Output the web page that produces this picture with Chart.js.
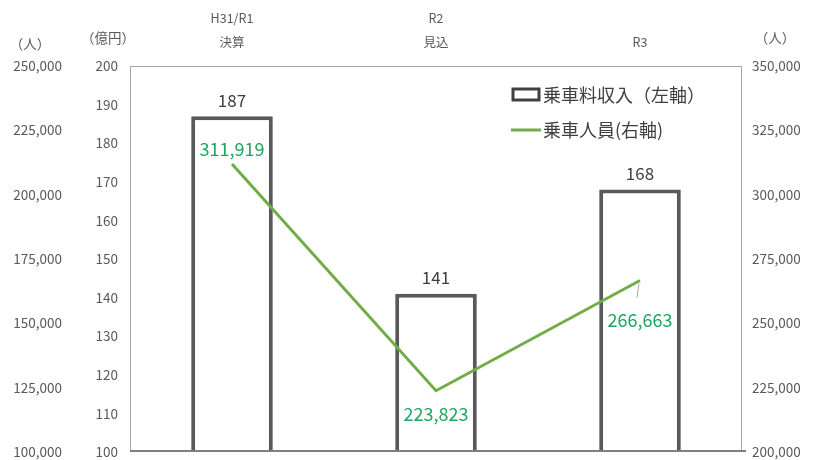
<!DOCTYPE html>
<html>
<head>
<meta charset="utf-8">
<script src="https://cdn.jsdelivr.net/npm/chart.js@4/dist/chart.umd.min.js"></script>
<style>
  html, body { margin: 0; padding: 0; background: #fff; }
  #wrap { width: 823px; height: 460px; }
</style>
</head>
<body>
<div id="wrap"><canvas id="chart"></canvas></div>
<script>
const categories = [['H31/R1', '決算'], ['R2', '見込'], 'R3'];
const fareRevenue = [187, 141, 168];          // 億円
const passengers = [311919, 223823, 266663];  // 人
const revenueRange = [100, 200, 10];
const passengerRange = [200000, 350000, 25000];
const outerRange = [100000, 250000, 25000];

const fontFamily = "'Noto Sans CJK JP', 'Open Sans', sans-serif";
const tickColor = '#595959';
const barColor = '#595959';
const lineColor = '#70ad47';
const labelGreen = '#1fa55f';
const tickFont = { family: fontFamily, size: 13.5 };

// fixed axis width, and no extra room reserved for the end labels
function fixWidth(w) {
  return function (scale) {
    scale.width = w;
    scale.paddingTop = 0;
    scale.paddingBottom = 0;
  };
}

// plot frame taken from the axes themselves
function frame(chart) {
  const s = chart.scales;
  let bottom = s.yRevenue.getPixelForValue(revenueRange[0]);
  if (!Number.isFinite(bottom) || bottom > chart.height - 8) bottom = chart.height - 8;
  return {
    left: s.yRevenue.right,
    right: s.yPassengers.left,
    top: s.yRevenue.getPixelForValue(revenueRange[1]),
    bottom: bottom
  };
}

const decorations = {
  id: 'decorations',
  beforeDatasetsDraw(chart) {
    const { ctx } = chart;
    const f = frame(chart);
    ctx.save();
    ctx.strokeStyle = '#a6a6a6';
    ctx.lineWidth = 1;
    ctx.strokeRect(f.left + 0.5, f.top + 0.5, f.right - f.left - 1, f.bottom - f.top - 1);
    ctx.restore();
  },
  afterDatasetsDraw(chart) {
    const { ctx } = chart;
    const f = frame(chart);
    ctx.save();

    // base line of the bars
    ctx.fillStyle = '#7f7f7f';
    ctx.fillRect(f.left, Math.round(f.bottom) - 2, f.right - f.left + 4, 2);

    ctx.textAlign = 'center';
    ctx.textBaseline = 'middle';

    // bar values
    ctx.font = '17px ' + fontFamily;
    ctx.fillStyle = '#404040';
    chart.getDatasetMeta(0).data.forEach((bar, i) => {
      ctx.fillText(fareRevenue[i], bar.x, bar.y - 16);
    });

    // passenger values
    const offsets = [-15, 23, 40];
    ctx.font = '18px ' + fontFamily;
    ctx.fillStyle = labelGreen;
    chart.getDatasetMeta(1).data.forEach((pt, i) => {
      ctx.fillText(passengers[i].toLocaleString('en-US'), pt.x, pt.y + offsets[i]);
    });
    // leader line for the last label
    const last = chart.getDatasetMeta(1).data[2];
    ctx.strokeStyle = '#a6a6a6';
    ctx.lineWidth = 1;
    ctx.beginPath();
    ctx.moveTo(last.x - 1, last.y + 3);
    ctx.lineTo(last.x - 3, last.y + 17);
    ctx.stroke();

    // axis unit captions
    ctx.font = '13.5px ' + fontFamily;
    ctx.fillStyle = tickColor;
    ctx.fillText('（人）', 30, 44);
    ctx.fillText('（億円）', 108, 38);
    ctx.fillText('（人）', 775, 38);

    // legend
    ctx.strokeStyle = '#404040';
    ctx.lineWidth = 3;
    ctx.strokeRect(513, 89, 26, 11);
    ctx.strokeStyle = lineColor;
    ctx.beginPath();
    ctx.moveTo(511, 130);
    ctx.lineTo(541, 130);
    ctx.stroke();
    ctx.font = '18px ' + fontFamily;
    ctx.fillStyle = '#404040';
    ctx.textAlign = 'left';
    ctx.fillText('乗車料収入（左軸）', 543, 95);
    ctx.fillText('乗車人員(右軸)', 543, 130);
    ctx.restore();
  }
};

new Chart(document.getElementById('chart'), {
  data: {
    labels: categories,
    datasets: [{
      type: 'bar',
      label: '乗車料収入（左軸）',
      data: fareRevenue,
      yAxisID: 'yRevenue',
      backgroundColor: '#ffffff',
      borderColor: barColor,
      borderWidth: 4,
      borderSkipped: 'start',
      barPercentage: 0.4,
      categoryPercentage: 1,
      order: 2
    }, {
      type: 'line',
      label: '乗車人員(右軸)',
      data: passengers,
      yAxisID: 'yPassengers',
      borderColor: lineColor,
      borderWidth: 3,
      pointRadius: 0,
      tension: 0,
      order: 1
    }]
  },
  options: {
    responsive: true,
    maintainAspectRatio: false,
    animation: false,
    layout: { padding: { top: 0, bottom: 8, left: 0, right: 0 } },
    plugins: {
      legend: { display: false },
      tooltip: { enabled: false }
    },
    scales: {
      x: {
        position: 'top',
        grid: { display: false, drawTicks: false },
        border: { display: false },
        ticks: { color: tickColor, font: { family: fontFamily, size: 12.5, lineHeight: 1.9 }, padding: 12, maxRotation: 0 },
        afterFit(scale) { scale.height = 66; }
      },
      yOuter: {
        display: true,
        position: 'left',
        weight: 2,
        min: outerRange[0],
        max: outerRange[1],
        grid: { display: false, drawTicks: false },
        border: { display: false },
        ticks: { stepSize: outerRange[2], color: tickColor, font: tickFont, padding: 8,
          callback: v => v.toLocaleString('en-US') },
        afterFit: fixWidth(70)
      },
      yRevenue: {
        position: 'left',
        weight: 1,
        min: revenueRange[0],
        max: revenueRange[1],
        grid: { display: false, drawTicks: false },
        border: { display: false },
        ticks: { stepSize: revenueRange[2], color: tickColor, font: tickFont, padding: 12 },
        afterFit: fixWidth(60)
      },
      yPassengers: {
        position: 'right',
        min: passengerRange[0],
        max: passengerRange[1],
        grid: { display: false, drawTicks: false },
        border: { display: false },
        ticks: { stepSize: passengerRange[2], color: tickColor, font: tickFont, padding: 10,
          callback: v => v.toLocaleString('en-US') },
        afterFit: fixWidth(81)
      }
    }
  },
  plugins: [decorations]
});
</script>
</body>
</html>
